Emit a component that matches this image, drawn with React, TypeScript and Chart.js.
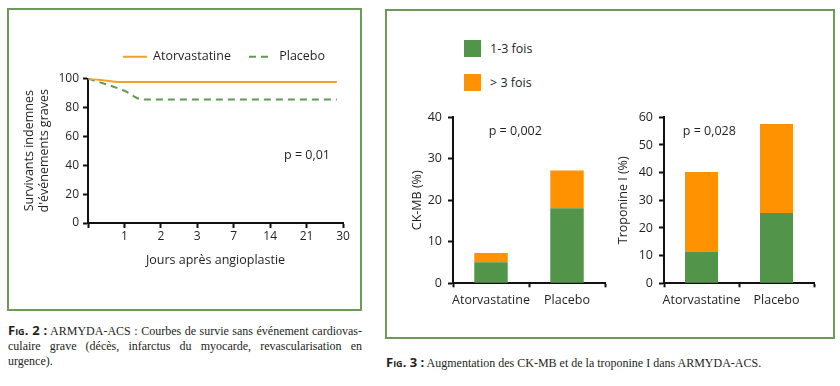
import React, { useEffect, useRef } from 'react';
import { Chart, registerables } from 'chart.js';

Chart.register(...registerables);

// ---------- data ----------
const DAY_LABELS = ['', '1', '2', '3', '7', '14', '21', '30'];
const ATORVA_SURV_X = [0, 0.8, 6.83];
const ATORVA_SURV_Y = [100, 97.5, 97.5];
const PLACEBO_SURV_X = [0, 1, 1.5, 6.83];
const PLACEBO_SURV_Y = [100, 91.5, 85.5, 85.5];
const SURV_SERIES = ['Atorvastatine', 'Placebo'];

const GROUPS = ['Atorvastatine', 'Placebo'];
const LEVEL_NAMES = ['1-3 fois', '> 3 fois'];
const CKMB_1_3 = [5.1, 18.1];
const CKMB_GT3 = [2.2, 9.1];
const TROP_1_3 = [11.5, 25.4];
const TROP_GT3 = [28.7, 32.2];

// ---------- styles ----------
const FONT = "'Open Sans', 'Noto Sans', sans-serif";
const SERIF = "'Liberation Serif', 'DejaVu Serif', serif";
const TEXT = '#231f20';
const AXIS = '#111111';
const ORANGE_LINE = '#f2a02a';
const GREEN_LINE = '#5e9b4e';
const GREEN = '#52954a';
const ORANGE = '#ff9200';
const FRAME = '#6c9b57';
const FS = 12.5;

const pLabelPlugin = {
  id: 'pLabel',
  afterDatasetsDraw(chart: any, _args: any, opts: any) {
    if (!opts || !opts.text) return;
    const { ctx, scales } = chart;
    const x = scales.x.getPixelForValue(opts.x);
    const y = scales.y.getPixelForValue(opts.y);
    ctx.save();
    ctx.font = `${opts.size || FS}px ${FONT}`;
    ctx.fillStyle = TEXT;
    ctx.textAlign = 'left';
    ctx.textBaseline = 'middle';
    ctx.fillText(opts.text, x, y);
    ctx.restore();
  },
};

function survivalConfig(): any {
  return {
    type: 'line',
    data: {
      datasets: [
        {
          label: SURV_SERIES[0],
          data: ATORVA_SURV_X.map((x, i) => ({ x, y: ATORVA_SURV_Y[i] })),
          borderColor: ORANGE_LINE,
          borderWidth: 2,
          pointRadius: 0,
          fill: false,
        },
        {
          label: SURV_SERIES[1],
          data: PLACEBO_SURV_X.map((x, i) => ({ x, y: PLACEBO_SURV_Y[i] })),
          borderColor: GREEN_LINE,
          borderWidth: 2,
          borderDash: [7, 5],
          pointRadius: 0,
          cubicInterpolationMode: 'monotone',
          fill: false,
        },
      ],
    },
    options: {
      animation: false,
      responsive: false,
      maintainAspectRatio: false,
      layout: { padding: { left: 0, right: 16, top: 22.5, bottom: 35 } },
      scales: {
        x: {
          type: 'linear',
          min: 0,
          max: 7,
          afterFit: (s: any) => { s.height = 50; },
          ticks: {
            stepSize: 1,
            autoSkip: false,
            maxRotation: 0,
            padding: 1,
            color: TEXT,
            font: { family: FONT, size: 12 },
            callback: (v: any) => DAY_LABELS[v] ?? '',
          },
          grid: { display: true, drawOnChartArea: false, drawTicks: true, tickLength: 5, tickWidth: 2, tickColor: AXIS },
          border: { display: true, color: AXIS, width: 2 },
          title: {
            display: true,
            text: 'Jours après angioplastie',
            color: TEXT,
            font: { family: FONT, size: FS },
            padding: { top: 0, bottom: 5 },
          },
        },
        y: {
          min: 0,
          max: 100,
          afterFit: (s: any) => { s.width = 79; },
          ticks: { stepSize: 20, padding: 4, color: TEXT, font: { family: FONT, size: 12 } },
          grid: { display: true, drawOnChartArea: false, drawTicks: true, tickLength: 5, tickWidth: 2, tickColor: AXIS },
          border: { display: true, color: AXIS, width: 2 },
          title: {
            display: true,
            text: ['Survivants indemnes', "d'événements graves"],
            color: TEXT,
            font: { family: FONT, size: FS },
            padding: { top: 13, bottom: 0 },
          },
        },
      },
      plugins: {
        tooltip: { enabled: false },
        title: { display: true, text: '', weight: 500, padding: 0, font: { size: 5.5, lineHeight: 1 } },
        legend: {
          display: true,
          position: 'top',
          align: 'end',
          labels: {
            usePointStyle: true,
            pointStyleWidth: 24,
            padding: 18,
            color: TEXT,
            font: { family: FONT, size: FS },
            generateLabels: (chart: any) =>
              chart.data.datasets.map((ds: any, i: number) => ({
                text: ds.label,
                fillStyle: ds.borderColor,
                strokeStyle: ds.borderColor,
                fontColor: TEXT,
                lineWidth: 2,
                lineDash: ds.borderDash || [],
                pointStyle: 'line',
                datasetIndex: i,
                hidden: false,
              })),
          },
        },
        pLabel: { text: 'p = 0,01', x: 5.38, y: 46.6, size: FS },
      },
    },
    plugins: [pLabelPlugin],
  };
}

function barConfig(low: number[], high: number[], max: number, yTitle: string, titlePad: number, yWidth: number, padRight: number, pText: string, pX: number, pY: number): any {
  return {
    type: 'bar',
    data: {
      labels: GROUPS,
      datasets: [
        { label: LEVEL_NAMES[0], data: low, backgroundColor: GREEN, borderWidth: 0 },
        { label: LEVEL_NAMES[1], data: high, backgroundColor: ORANGE, borderWidth: 0 },
      ],
    },
    options: {
      animation: false,
      responsive: false,
      maintainAspectRatio: false,
      layout: { padding: { left: 0, right: padRight, top: 17.3, bottom: 6.7 } },
      datasets: { bar: { barPercentage: 0.44, categoryPercentage: 1 } },
      scales: {
        x: {
          stacked: true,
          afterFit: (s: any) => { s.height = 30; },
          ticks: { padding: 6, maxRotation: 0, autoSkip: false, color: TEXT, font: { family: FONT, size: FS } },
          grid: { display: true, offset: true, drawOnChartArea: false, drawTicks: true, tickLength: 4, tickWidth: 2, tickColor: AXIS },
          border: { display: true, color: AXIS, width: 2 },
        },
        y: {
          stacked: true,
          min: 0,
          max,
          afterFit: (s: any) => { s.width = yWidth; },
          ticks: { stepSize: 10, padding: 6, color: TEXT, font: { family: FONT, size: FS } },
          grid: { display: true, drawOnChartArea: false, drawTicks: true, tickLength: 5, tickWidth: 2, tickColor: AXIS },
          border: { display: true, color: AXIS, width: 2 },
          title: {
            display: true,
            text: yTitle,
            color: TEXT,
            font: { family: FONT, size: FS },
            padding: { top: titlePad, bottom: 0 },
          },
        },
      },
      plugins: {
        tooltip: { enabled: false },
        legend: { display: false },
        pLabel: { text: pText, x: pX, y: pY, size: FS },
      },
    },
    plugins: [pLabelPlugin],
  };
}

function ChartBox({ left, top, width, height, build }: { left: number; top: number; width: number; height: number; build: () => any }) {
  const ref = useRef<HTMLCanvasElement | null>(null);
  useEffect(() => {
    if (!ref.current) return;
    const chart = new Chart(ref.current, build());
    return () => chart.destroy();
  }, []);
  return (
    <canvas
      ref={ref}
      width={width}
      height={height}
      style={{ position: 'absolute', left, top, width, height, display: 'block' }}
    />
  );
}

const figLabel: React.CSSProperties = {
  fontFamily: FONT,
  fontWeight: 700,
  fontVariant: 'small-caps',
  fontSize: 13,
};

const justLine: React.CSSProperties = {
  textAlign: 'justify',
  textAlignLast: 'justify' as any,
  height: 15.5,
};

export default function App() {
  return (
    <div
      style={{
        position: 'absolute',
        left: 0,
        top: 0,
        width: 840,
        height: 386,
        background: '#ffffff',
        overflow: 'hidden',
        color: TEXT,
      }}
    >
      {/* panel frames */}
      <div style={{ position: 'absolute', left: 7, top: 8, width: 355, height: 303, border: `2px solid ${FRAME}`, boxSizing: 'border-box' }} />
      <div style={{ position: 'absolute', left: 385, top: 9, width: 450, height: 330, border: `2px solid ${FRAME}`, boxSizing: 'border-box' }} />

      {/* survival chart */}
      <ChartBox left={9} top={10} width={350} height={298} build={survivalConfig} />

      {/* bar legend */}
      <div style={{ position: 'absolute', left: 464, top: 40, width: 17, height: 17, background: GREEN }} />
      <div style={{ position: 'absolute', left: 490, top: 40, height: 17, lineHeight: '17px', fontFamily: FONT, fontSize: FS, whiteSpace: 'nowrap' }}>{LEVEL_NAMES[0]}</div>
      <div style={{ position: 'absolute', left: 464, top: 74, width: 17, height: 17, background: ORANGE }} />
      <div style={{ position: 'absolute', left: 490, top: 74, height: 17, lineHeight: '17px', fontFamily: FONT, fontSize: FS, whiteSpace: 'nowrap' }}>{LEVEL_NAMES[1]}</div>

      {/* bar charts */}
      <ChartBox
        left={395}
        top={100}
        width={215}
        height={220}
        build={() => barConfig(CKMB_1_3, CKMB_GT3, 40, 'CK-MB (%)', 14.5, 58, 5, 'p = 0,002', -0.03, 36.7)}
      />
      <ChartBox
        left={610}
        top={100}
        width={215}
        height={220}
        build={() => barConfig(TROP_1_3, TROP_GT3, 60, 'Troponine I (%)', 5.5, 54, 11, 'p = 0,028', -0.25, 55)}
      />

      {/* captions */}
      <div style={{ position: 'absolute', left: 8, top: 323, width: 354, fontFamily: SERIF, fontSize: 12, lineHeight: '15.5px' }}>
        <div style={justLine}>
          <span style={figLabel}>Fig. 2 :</span> ARMYDA-ACS : Courbes de survie sans événement cardiovas-
        </div>
        <div style={justLine}>culaire grave (décès, infarctus du myocarde, revascularisation en</div>
        <div style={{ height: 15.5 }}>urgence).</div>
      </div>
      <div style={{ position: 'absolute', left: 386, top: 355, width: 440, fontFamily: SERIF, fontSize: 12, lineHeight: '15.5px', whiteSpace: 'nowrap' }}>
        <span style={figLabel}>Fig. 3 :</span> Augmentation des CK-MB et de la troponine I dans ARMYDA-ACS.
      </div>
    </div>
  );
}
